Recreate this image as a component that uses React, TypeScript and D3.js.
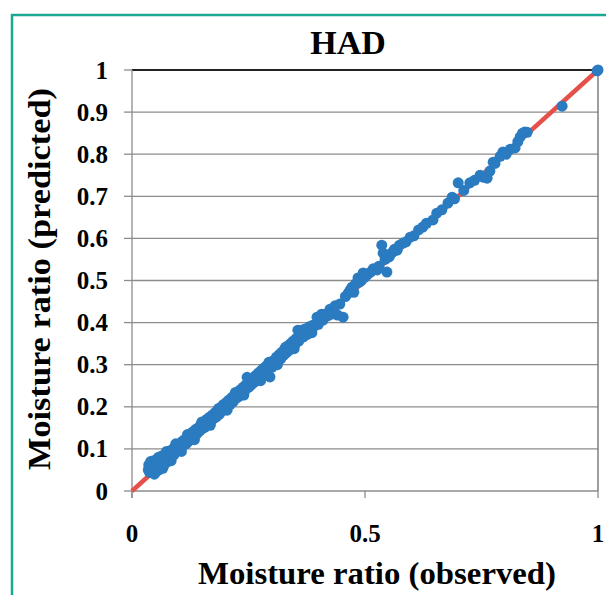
import React from "react";
import * as d3 from "d3";

const observed = [
  0.035, 0.036, 0.038, 0.040, 0.041, 0.043, 0.045, 0.046, 0.048, 0.050, 0.051, 0.053, 0.055, 0.056, 0.058, 0.060,
  0.062, 0.063, 0.065, 0.067, 0.069, 0.071, 0.073, 0.075, 0.077, 0.079, 0.081, 0.083, 0.085, 0.088, 0.090, 0.092,
  0.095, 0.097, 0.100, 0.102, 0.105, 0.108, 0.110, 0.113, 0.116, 0.118, 0.121, 0.124, 0.127, 0.130, 0.133, 0.136,
  0.139, 0.142, 0.145, 0.148, 0.151, 0.154, 0.157, 0.160, 0.163, 0.166, 0.169, 0.172, 0.175, 0.178, 0.181, 0.184,
  0.187, 0.190, 0.193, 0.196, 0.199, 0.202, 0.205, 0.208, 0.211, 0.214, 0.217, 0.220, 0.223, 0.226, 0.229, 0.232,
  0.235, 0.238, 0.241, 0.244, 0.247, 0.250, 0.253, 0.256, 0.259, 0.262, 0.265, 0.268, 0.271, 0.274, 0.277, 0.280,
  0.283, 0.286, 0.289, 0.292, 0.296, 0.298, 0.301, 0.304, 0.307, 0.310, 0.313, 0.316, 0.319, 0.322, 0.325, 0.328,
  0.331, 0.334, 0.337, 0.340, 0.343, 0.346, 0.349, 0.352, 0.356, 0.358, 0.362, 0.365, 0.368, 0.372, 0.376, 0.380,
  0.384, 0.388, 0.392, 0.397, 0.400, 0.404, 0.410, 0.414, 0.420, 0.425, 0.431, 0.436, 0.441, 0.446, 0.453, 0.458,
  0.464, 0.468, 0.472, 0.476, 0.480, 0.485, 0.488, 0.492, 0.496, 0.500, 0.505, 0.512, 0.518, 0.526, 0.530, 0.536,
  0.539, 0.543, 0.547, 0.552, 0.558, 0.563, 0.569, 0.574, 0.582, 0.588, 0.597, 0.605, 0.615, 0.624, 0.632, 0.646,
  0.654, 0.665, 0.678, 0.687, 0.692, 0.700, 0.712, 0.725, 0.735, 0.747, 0.755, 0.762, 0.768, 0.775, 0.779, 0.790,
  0.796, 0.803, 0.812, 0.822, 0.828, 0.833, 0.838, 0.843, 0.848, 0.923, 0.998, 1.000,
  0.040, 0.048, 0.057, 0.066, 0.074, 0.084, 0.094, 0.106, 0.119, 0.134, 0.150, 0.168, 0.186, 0.204, 0.222,
  0.240, 0.258, 0.276, 0.294, 0.312, 0.330, 0.348, 0.370, 0.386, 0.407, 0.428,
];

const predicted = [
  0.050, 0.062, 0.044, 0.055, 0.068, 0.049, 0.060, 0.072, 0.052, 0.064, 0.045, 0.070, 0.058, 0.078, 0.050, 0.066,
  0.075, 0.058, 0.084, 0.068, 0.062, 0.080, 0.072, 0.088, 0.070, 0.082, 0.095, 0.078, 0.090, 0.100, 0.086, 0.104,
  0.095, 0.110, 0.098, 0.112, 0.104, 0.118, 0.108, 0.122, 0.112, 0.128, 0.118, 0.132, 0.124, 0.140, 0.128, 0.146,
  0.136, 0.150, 0.142, 0.158, 0.148, 0.162, 0.152, 0.170, 0.160, 0.175, 0.164, 0.180, 0.172, 0.186, 0.176, 0.192,
  0.182, 0.198, 0.190, 0.205, 0.194, 0.210, 0.200, 0.216, 0.206, 0.222, 0.212, 0.228, 0.220, 0.234, 0.224, 0.240,
  0.230, 0.246, 0.236, 0.252, 0.270, 0.246, 0.260, 0.252, 0.268, 0.258, 0.274, 0.264, 0.280, 0.270, 0.286, 0.276,
  0.292, 0.282, 0.298, 0.288, 0.271, 0.304, 0.294, 0.310, 0.300, 0.318, 0.308, 0.324, 0.314, 0.330, 0.322, 0.338,
  0.328, 0.344, 0.334, 0.350, 0.340, 0.356, 0.346, 0.362, 0.382, 0.356, 0.370, 0.382, 0.366, 0.378, 0.372, 0.390,
  0.380, 0.394, 0.392, 0.413, 0.396, 0.410, 0.406, 0.420, 0.416, 0.432, 0.430, 0.440, 0.418, 0.444, 0.413, 0.462,
  0.470, 0.477, 0.484, 0.472, 0.492, 0.506, 0.496, 0.500, 0.518, 0.508, 0.514, 0.520, 0.528, 0.525, 0.534, 0.584,
  0.565, 0.550, 0.520, 0.556, 0.566, 0.574, 0.572, 0.584, 0.589, 0.592, 0.603, 0.606, 0.620, 0.627, 0.636, 0.644,
  0.660, 0.668, 0.684, 0.698, 0.694, 0.732, 0.714, 0.732, 0.738, 0.750, 0.745, 0.743, 0.760, 0.781, 0.778, 0.795,
  0.805, 0.800, 0.812, 0.815, 0.830, 0.841, 0.850, 0.853, 0.852, 0.914, 0.998, 1.000,
  0.070, 0.040, 0.080, 0.054, 0.094, 0.072, 0.112, 0.094, 0.134, 0.122, 0.164, 0.156, 0.196, 0.192, 0.234,
  0.228, 0.268, 0.262, 0.306, 0.300, 0.342, 0.338, 0.384, 0.376, 0.420, 0.420,
];

const yTicks = [0, 0.1, 0.2, 0.3, 0.4, 0.5, 0.6, 0.7, 0.8, 0.9, 1];
const xTicks = [0, 0.5, 1];
const title = "HAD";
const xTitle = "Moisture ratio (observed)";
const yTitle = "Moisture ratio (predicted)";

export default function App() {
  const x = d3.scaleLinear().domain([0, 1]).range([132, 598]);
  const y = d3.scaleLinear().domain([0, 1]).range([491, 70]);
  const fmt = (v: number) => (v === 0 ? "0" : v === 1 ? "1" : d3.format(".1f")(v));
  const points = observed.map((o, i) => ({ o, p: predicted[i] }));
  const font = "'Liberation Serif', 'Times New Roman', serif";
  const line = d3.line<[number, number]>().x((d) => x(d[0])).y((d) => y(d[1]));

  return (
    <svg
      width={606}
      height={595}
      style={{ position: "absolute", left: 0, top: 0, background: "#fff" }}
      fontFamily={font}
    >
      <rect x={0} y={0} width={606} height={595} fill="#fff" />
      {/* teal frame */}
      <path d="M12,620 L12,15 L640,15" fill="none" stroke="#1aa892" strokeWidth={2.5} />

      {/* gridlines */}
      {yTicks.map((t) => (
        <line
          key={"g" + t}
          x1={x(0)}
          x2={x(1)}
          y1={y(t)}
          y2={y(t)}
          stroke={t === 1 ? "#222" : "#8c8c8c"}
          strokeWidth={t === 1 ? 1.8 : 1.3}
        />
      ))}
      {/* right border */}
      <line x1={x(1)} x2={x(1)} y1={y(1)} y2={y(0)} stroke="#6a6a6a" strokeWidth={1.3} />
      {/* left axis */}
      <line x1={x(0)} x2={x(0)} y1={y(1)} y2={y(0) + 7} stroke="#8c8c8c" strokeWidth={1.3} />
      {/* y ticks */}
      {yTicks.map((t) => (
        <line key={"yt" + t} x1={x(0) - 8} x2={x(0)} y1={y(t)} y2={y(t)} stroke="#8c8c8c" strokeWidth={1.3} />
      ))}
      {/* x ticks */}
      {xTicks.map((t) => (
        <line key={"xt" + t} x1={x(t)} x2={x(t)} y1={y(0)} y2={y(0) + 7} stroke="#8c8c8c" strokeWidth={1.3} />
      ))}

      {/* 1:1 line */}
      <path d={line([[0, 0], [1, 1]]) || ""} stroke="#e5514a" strokeWidth={4.5} fill="none" />

      {/* points */}
      {points.map((d, i) => (
        <circle key={i} cx={x(d.o)} cy={y(d.p)} r={5.5} fill="#2b7bc1" />
      ))}

      {/* y tick labels */}
      {yTicks.map((t) => (
        <text
          key={"yl" + t}
          x={108}
          y={y(t) + 8.5}
          textAnchor="end"
          fontSize={25}
          fontWeight="bold"
          fill="#000"
        >
          {fmt(t)}
        </text>
      ))}
      {/* x tick labels */}
      {xTicks.map((t) => (
        <text
          key={"xl" + t}
          x={x(t)}
          y={542}
          textAnchor="middle"
          fontSize={25}
          fontWeight="bold"
          fill="#000"
        >
          {fmt(t)}
        </text>
      ))}

      {/* titles */}
      <text x={348} y={54} textAnchor="middle" fontSize={34} fontWeight="bold" fill="#000">
        {title}
      </text>
      <text
        x={198}
        y={584}
        fontSize={32}
        fontWeight="bold"
        fill="#000"
        textLength={358}
        lengthAdjust="spacingAndGlyphs"
      >
        {xTitle}
      </text>
      <text
        transform="translate(50,470) rotate(-90)"
        x={0}
        y={0}
        fontSize={32}
        fontWeight="bold"
        fill="#000"
        textLength={382}
        lengthAdjust="spacingAndGlyphs"
      >
        {yTitle}
      </text>
    </svg>
  );
}
